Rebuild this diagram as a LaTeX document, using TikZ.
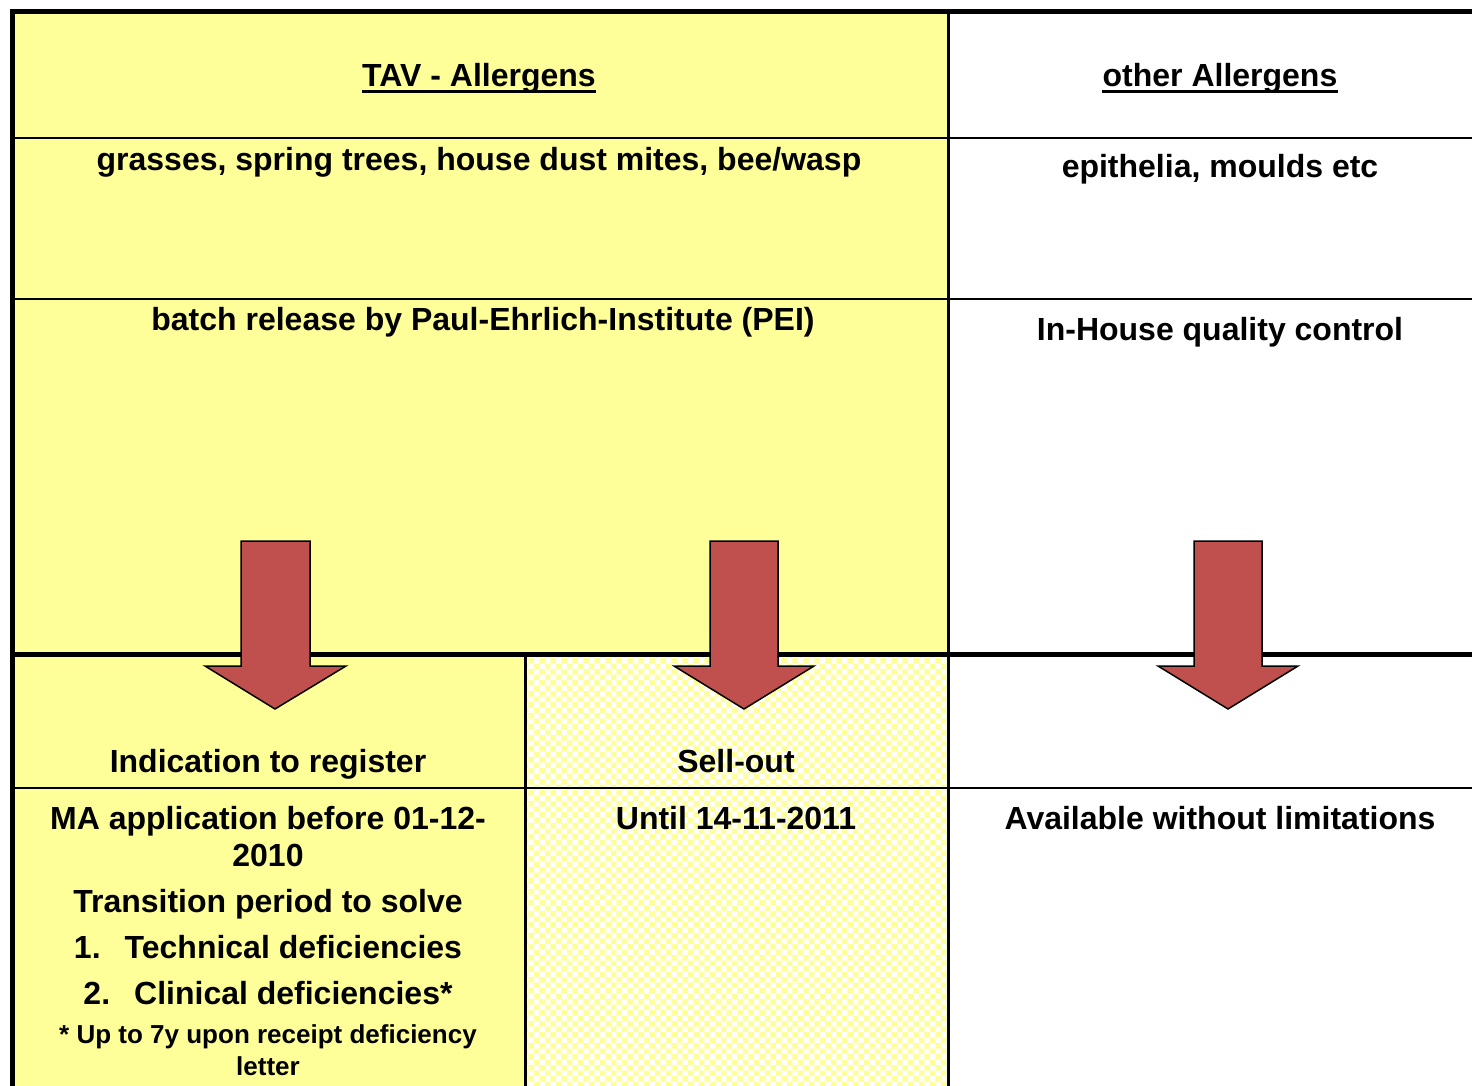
\documentclass[tikz,border=0pt]{standalone}
\usepackage{fontspec}
\setmainfont{Liberation Sans}
\usetikzlibrary{patterns}
\definecolor{tavyellow}{HTML}{FFFF99}
\definecolor{arrowred}{HTML}{C0504D}
\tikzset{
  cell/.style={font=\bfseries\fontsize{32}{38}\selectfont, anchor=base, inner sep=0pt},
  small/.style={font=\bfseries\fontsize{26}{32}\selectfont, anchor=base, inner sep=0pt},
  thinline/.style={line width=2pt},
  medline/.style={line width=3pt},
  thickline/.style={line width=5pt},
  bigarrow/.style={fill=arrowred, draw=black, line width=1.5pt, line join=miter},
  uline/.style={line width=2.5pt}
}
\begin{document}
\begin{tikzpicture}[x=1pt,y=-1pt]
\useasboundingbox (0,0) rectangle (1472,1086);
\fill[white] (0,0) rectangle (1472,1086);
\begin{scope}
\clip (0,0) rectangle (1472,1086);
% fills
\fill[tavyellow] (12,12) rectangle (948,654);
\fill[tavyellow] (12,654) rectangle (525,1090);
\fill[white] (525,654) rectangle (948,1090);
\fill[pattern=checkerboard, pattern color=tavyellow] (525,654) rectangle (948,1090);
% lines
\draw[thinline] (12,138) -- (1480,138);
\draw[thinline] (12,299) -- (1480,299);
\draw[thinline] (12,788) -- (1480,788);
\draw[medline] (948,12) -- (948,1090);
\draw[medline] (525,654) -- (525,1090);
\draw[thickline] (12,654) -- (1480,654);
\draw[thickline] (12,1090) -- (12,12) -- (1480,12);
% arrows
\draw[bigarrow] (241,541) -- (310,541) -- (310,666) -- (346,666) -- (275,709) -- (205,666) -- (241,666) -- cycle;
\draw[bigarrow] (710,541) -- (778,541) -- (778,666) -- (814,666) -- (744,709) -- (674,666) -- (710,666) -- cycle;
\draw[bigarrow] (1194,541) -- (1262,541) -- (1262,666) -- (1298,666) -- (1228,709) -- (1158,666) -- (1194,666) -- cycle;
\end{scope}
% texts
\node[cell] (tav) at (479,87) {TAV - Allergens};
\draw[uline] ([yshift=-4.5pt]tav.base west) -- ([yshift=-4.5pt]tav.base east);
\node[cell] (oth) at (1220,87) {other Allergens};
\draw[uline] ([yshift=-4.5pt]oth.base west) -- ([yshift=-4.5pt]oth.base east);
\node[cell] (grass) at (479,171) {grasses, spring trees, house dust mites, bee/wasp};
\node[cell] (epi) at (1220,178) {epithelia, moulds etc};
\node[cell] (batch) at (483,330) {batch release by Paul-Ehrlich-Institute (PEI)};
\node[cell] (inh) at (1220,340) {In-House quality control};
\node[cell] (ind) at (268,772) {Indication to register};
\node[cell] (sell) at (736,772) {Sell-out};
\node[cell] (ma1) at (268,829) {MA application before 01-12-};
\node[cell] (ma2) at (268,866) {2010};
\node[cell] (trans) at (268,912) {Transition period to solve};
\node[cell] (tech) at (268,958) {1.\hspace{0.75em}Technical deficiencies};
\node[cell] (clin) at (268,1004) {2.\hspace{0.75em}Clinical deficiencies*};
\node[small] (up) at (268,1043) {* Up to 7y upon receipt deficiency};
\node[small] (let) at (268,1075) {letter};
\node[cell] (until) at (736,829) {Until 14-11-2011};
\node[cell] (avail) at (1220,829) {Available without limitations};
\end{tikzpicture}
\end{document}
